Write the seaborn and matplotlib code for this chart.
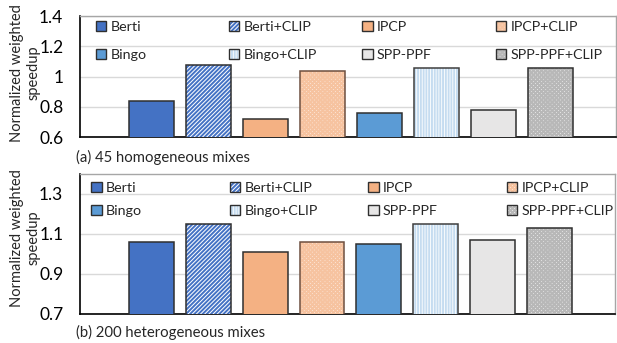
import matplotlib
matplotlib.use("Agg")
import matplotlib.pyplot as plt
import seaborn as sns
from matplotlib.patches import Patch, Rectangle
from matplotlib.ticker import FuncFormatter

sns.set_theme(style="white")
plt.rcParams['font.family'] = ['Lato', 'DejaVu Sans']
plt.rcParams['hatch.linewidth'] = 1.4

series = ["Berti", "Berti+CLIP", "IPCP", "IPCP+CLIP",
          "Bingo", "Bingo+CLIP", "SPP-PPF", "SPP-PPF+CLIP"]
homogeneous = [0.84, 1.08, 0.72, 1.04, 0.76, 1.06, 0.78, 1.06]
heterogeneous = [1.06, 1.15, 1.01, 1.06, 1.05, 1.15, 1.07, 1.13]
panel_titles = ["(a) 45 homogeneous mixes", "(b) 200 heterogeneous mixes"]
ylabel_text = "Normalized weighted\nspeedup"

face_colors = ["#4472C4", "#FFFFFF", "#F4B183", "#FDE9DC",
               "#5B9BD5", "#FFFFFF", "#E7E6E6", "#EEEEEE"]
hatch_colors = [None, "#4472C4", None, "#F6C3A0",
                None, "#C5DCF0", None, "#B8B8B8"]
hatches = [None, "////////", None, "xxxxxxxx", None, "||||||", None, "xxxxxxxx"]
edge_colors = ["#2F2F2F", "#2F2F2F", "#2F2F2F", "#6E5040",
               "#2F2F2F", "#3F3F3F", "#2F2F2F", "#2F2F2F"]

fig = plt.figure(figsize=(6.17, 3.43), dpi=100)
ax1 = fig.add_axes([80/617, 1-137.3/343, 536/617, 121.3/343])
ax2 = fig.add_axes([80/617, 1-314/343, 535/617, 140/343])
renderer = fig.canvas.get_renderer()

def fit_size(text, target_px, base=12.0):
    t = fig.text(0, 0, text, fontsize=base)
    w = t.get_window_extent(renderer).width
    t.remove()
    return base * target_px / w

def draw(ax, vals, ylim, yticks):
    palette = dict(zip(series, face_colors))
    sns.barplot(x=series, y=vals, hue=series, palette=palette, order=series,
                hue_order=series, legend=False, ax=ax, width=0.79,
                saturation=1, linewidth=0)
    bars = list(ax.patches)
    for i, b in enumerate(bars):
        b.set_zorder(3)
        if hatches[i]:
            b.set_hatch(hatches[i])
            b.set_edgecolor(hatch_colors[i])
            b.set_linewidth(0)
        ax.add_patch(Rectangle(b.get_xy(), b.get_width(), b.get_height(),
                               fill=False, edgecolor=edge_colors[i],
                               linewidth=1.1, zorder=4))
    ax.set_xlim(-1.254, 8.15)
    ax.set_ylim(*ylim)
    ax.set_yticks(yticks)
    ax.yaxis.set_major_formatter(FuncFormatter(lambda v, p: f"{v:g}"))
    ax.set_xticks([])
    ax.set_xlabel("")
    ax.set_ylabel("")
    ax.grid(axis='y', color='#D9D9D9', linewidth=1, zorder=0)
    ax.set_axisbelow(True)
    ax.tick_params(axis='y', length=0, labelsize=12.5, pad=12, colors='#000000')
    for s in ['top', 'right']:
        ax.spines[s].set_color('#A6A6A6')
        ax.spines[s].set_linewidth(1)
    for s in ['left', 'bottom']:
        ax.spines[s].set_color('#000000')
        ax.spines[s].set_linewidth(1.2)

draw(ax1, homogeneous, (0.6, 1.4), [0.6, 0.8, 1.0, 1.2, 1.4])
draw(ax2, heterogeneous, (0.7, 1.4), [0.7, 0.9, 1.1, 1.3])

leg_size = fit_size("SPP-PPF+CLIP", 93)

def make_handle(i):
    if hatches[i]:
        return (Patch(facecolor=face_colors[i], edgecolor=hatch_colors[i],
                      hatch=hatches[i], linewidth=0),
                Patch(fill=False, edgecolor='#2F2F2F', linewidth=1))
    return Patch(facecolor=face_colors[i], edgecolor='#2F2F2F', linewidth=1)

def legends(ax, xs, ys):
    grid = [[0, 1, 2, 3], [4, 5, 6, 7]]
    for r, row in enumerate(grid):
        for c, i in enumerate(row):
            leg = ax.legend([make_handle(i)], [series[i]],
                            loc='center left', bbox_to_anchor=(xs[c], ys[r]),
                            frameon=False, borderpad=0, borderaxespad=0,
                            handlelength=0.72, handleheight=0.72, handletextpad=0.3,
                            fontsize=leg_size)
            ax.add_artist(leg)
    ax.legend_ = None

legends(ax1, [0.030, 0.278, 0.527, 0.776], [0.912, 0.679])
legends(ax2, [0.021, 0.280, 0.539, 0.798], [0.900, 0.736])

title_size = fit_size(panel_titles[0], 174)
fig.text(76/617, 1-157/343, panel_titles[0], fontsize=title_size, va='center', ha='left')
fig.text(76/617, 1-332/343, panel_titles[1], fontsize=title_size, va='center', ha='left')

ylab_size = fit_size("Normalized weighted", 137)
for yc in (73, 238):
    fig.text(25/617, 1-yc/343, ylabel_text, rotation=90, fontsize=ylab_size,
             ha='center', va='center', multialignment='center', linespacing=1.2)

fig.savefig("out.png", dpi=100)
